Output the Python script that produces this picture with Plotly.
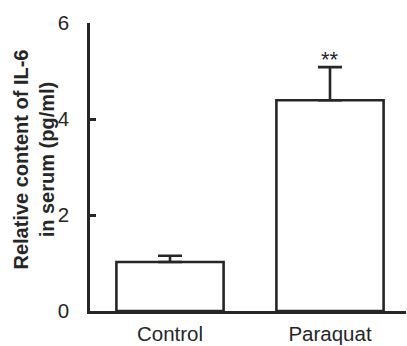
import plotly.graph_objects as go

categories = ["Control", "Paraquat"]
values = [1.02, 4.39]
errors = [0.13, 0.69]
y_ticks = [0, 2, 4, 6]
y_title_lines = ["Relative content of IL-6", "in serum (pg/ml)"]
sig_label = "**"

ink = "#262626"
font = "Liberation Sans, Arial, sans-serif"

fig = go.Figure()
fig.add_trace(go.Bar(
    x=categories,
    y=values,
    width=0.67,
    marker=dict(color="white", line=dict(color=ink, width=2.6)),
    error_y=dict(type="data", array=errors, arrayminus=[0] * len(errors),
                 symmetric=False, color=ink, thickness=2.6, width=12),
    showlegend=False,
))

fig.add_annotation(
    x=categories[1], y=values[1] + errors[1], text=sig_label,
    showarrow=False, yanchor="bottom", yshift=-7,
    font=dict(family=font, size=22, color=ink),
)

fig.add_annotation(
    xref="paper", yref="paper", x=-0.178, y=0.525,
    text="<b>" + "<br>".join(y_title_lines) + "</b>",
    textangle=-90, showarrow=False, xanchor="center", yanchor="middle",
    font=dict(family=font, size=20, color=ink),
)

fig.update_layout(
    width=407, height=346,
    margin=dict(l=90, r=1, t=23, b=35, autoexpand=False),
    paper_bgcolor="white", plot_bgcolor="white",
    font=dict(family=font, size=20, color=ink),
    bargap=0.33,
    xaxis=dict(
        range=[-0.5, 1.475], showline=True, linecolor=ink, linewidth=2.6,
        ticks="", showgrid=False, zeroline=False, ticklabelstandoff=3,
        automargin=False, tickfont=dict(size=20.5, color=ink),
    ),
    yaxis=dict(
        range=[0, 6], tickvals=y_ticks, showline=True, linecolor=ink,
        linewidth=2.6, ticks="inside", ticklen=6, tickwidth=2.6, tickcolor=ink,
        showgrid=False, zeroline=False, ticklabelstandoff=14,
        automargin=False, tickfont=dict(size=20.5, color=ink),
    ),
)

fig.write_html("out.html")
